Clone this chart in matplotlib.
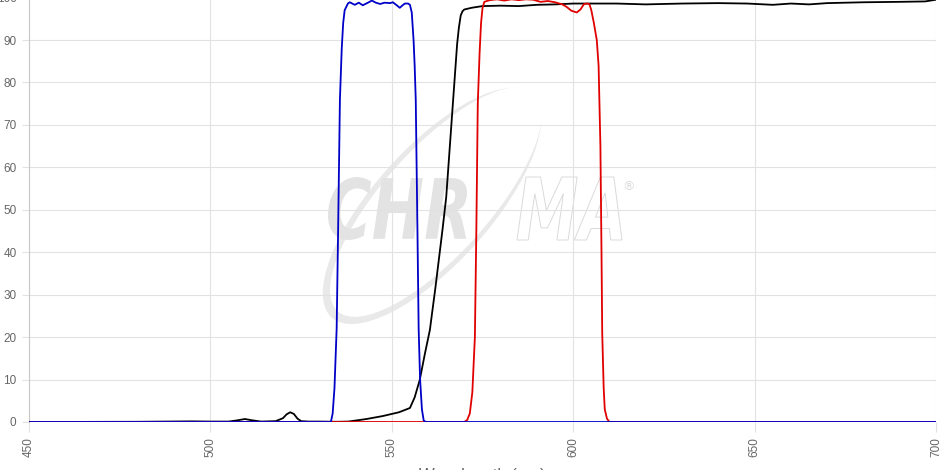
import matplotlib
matplotlib.use("Agg")
import matplotlib.pyplot as plt
import matplotlib.transforms as mtransforms
from matplotlib.textpath import TextPath
from matplotlib.patches import PathPatch, Ellipse
from matplotlib.font_manager import FontProperties

# --- data (wavelength nm, transmission %) ---
blue_wl = [450, 530, 533.2, 533.7, 534.2, 534.8, 535.2, 535.7, 536.2, 536.6, 537.0, 537.9,
           538.4, 539.8, 540.9, 542.0, 543.2, 544.5, 545.6, 546.8, 548.0, 549.5, 550.3,
           551.2, 552.2, 553.0, 553.6, 554.5, 555.0, 555.5, 556.0, 556.3, 556.6, 557.0,
           557.4, 557.8, 558.3, 558.8, 559.5, 700]
blue_t = [0, 0, 0, 2, 8, 22, 45, 76, 88, 94, 97, 98.6,
          98.9, 98.3, 98.8, 98.2, 98.7, 99.3, 98.8, 98.5, 98.8, 98.7, 98.9,
          98.3, 97.6, 98.2, 98.6, 98.6, 98.3, 96.5, 90, 84, 76, 50,
          22, 10, 3, 0.3, 0, 0]

black_wl = [450, 480, 495, 500, 505, 507.5, 509.5, 511.5, 514, 518, 520, 521, 522, 523, 524,
            525, 527, 530, 535, 538, 543, 547.5, 552, 555, 556.3, 557.7, 559.1, 560.5, 561,
            562, 563, 564, 565, 566, 567, 567.5, 568, 568.5, 569, 569.5, 570, 572, 575, 580,
            585, 590, 595, 600, 607, 612, 620, 630, 640, 648, 655, 660, 665, 670, 680, 690,
            697, 700]
black_t = [0, 0.05, 0.15, 0.1, 0.1, 0.4, 0.7, 0.4, 0.1, 0.2, 0.9, 1.8, 2.3, 1.9, 0.8,
           0.2, 0.1, 0.1, 0.05, 0.1, 0.7, 1.4, 2.3, 3.3, 5.8, 9.9, 16, 21.7, 25,
           31.5, 38.5, 45.5, 53, 65, 77, 83, 89, 93, 95.8, 96.8, 97.2, 97.6, 98.0, 98.1,
           98.0, 98.3, 98.4, 98.6, 98.6, 98.6, 98.4, 98.6, 98.7, 98.6, 98.3, 98.6, 98.4,
           98.7, 98.9, 99.0, 99.1, 99.5]

red_wl = [450, 570, 570.8, 571.5, 572.2, 572.9, 573.3, 573.7, 574.2, 574.6, 575.0, 575.5,
          577, 579, 581, 583, 585, 587, 589, 591, 593, 595, 597, 598.2, 599.5, 601, 602,
          603, 604, 604.5, 605, 605.7, 606.5, 607, 607.5, 607.8, 608, 608.4, 608.7, 609.3,
          610, 700]
red_t = [0, 0, 0.5, 2, 7, 20, 45, 75, 87, 94, 97.5, 99.0,
         99.4, 99.6, 99.3, 99.6, 99.4, 99.6, 99.5, 99.0, 99.2, 98.9, 98.4, 97.8, 96.9,
         96.5, 97.2, 98.5, 98.6, 98.4, 97, 94, 90, 84, 65, 40, 21, 8, 3, 0.8,
         0, 0]

x_ticks = [450, 500, 550, 600, 650, 700]
y_ticks = [0, 10, 20, 30, 40, 50, 60, 70, 80, 90, 100]

W, H = 951, 470
fig = plt.figure(figsize=(W / 100, H / 100), dpi=100)
fig.patch.set_facecolor("white")
ax = fig.add_axes([29 / W, 48 / H, 907 / W, 424.4 / H])
ax.set_facecolor("none")

ax.plot(black_wl, black_t, color="black", lw=1.3, zorder=3)
ax.plot(red_wl, red_t, color="#e00000", lw=1.3, zorder=4)
ax.plot(blue_wl, blue_t, color="#0000c8", lw=1.3, zorder=5)

ax.set_xlim(450, 700)
ax.set_ylim(0, 100)
ax.set_xticks(x_ticks)
ax.set_yticks(y_ticks)
ax.set_xticklabels([str(v) for v in x_ticks], rotation=90)
ax.grid(True, color="#e2e2e2", lw=0.8)
ax.set_axisbelow(True)
for s in ["top", "right", "bottom"]:
    ax.spines[s].set_visible(False)
ax.spines["left"].set_color("#c8c8c8")
ax.tick_params(axis="both", colors="#e2e2e2", labelcolor="#666666", labelsize=8.5)
ax.tick_params(axis="x", length=7, pad=4)
ax.tick_params(axis="y", length=5, pad=4)
for lab in ax.get_xticklabels() + ax.get_yticklabels():
    lab.set_family(["Liberation Sans Narrow", "Liberation Sans", "DejaVu Sans"])
ax.set_xlabel("Wavelength (nm)", color="#666666", fontsize=12, labelpad=8,
              family=["Liberation Sans", "DejaVu Sans"])

# --- CHROMA watermark (figure pixel coords, y up), drawn under the axes ---
def ell(cx, cy, w, h, color):
    fig.add_artist(Ellipse((cx / 100, (H - cy) / 100), w / 100, h / 100, angle=48,
                           transform=fig.dpi_scale_trans, facecolor=color,
                           edgecolor="none", zorder=-3))

ell(432, 206, 300, 116, "#e9e9e9")   # swoosh: outer minus shifted inner = crescent
ell(436, 202, 294, 106, "white")


def word(txt, x0, y0, w, h, **kw):
    fp = FontProperties(family="DejaVu Sans", weight="bold", style="italic")
    tp = TextPath((0, 0), txt, size=1, prop=fp)
    bb = tp.get_extents()
    tr = (mtransforms.Affine2D().translate(-bb.x0, -bb.y0)
          .scale(w / bb.width / 100, h / bb.height / 100)
          .translate(x0 / 100, y0 / 100) + fig.dpi_scale_trans)
    fig.add_artist(PathPatch(tp, transform=tr, zorder=-1, **kw))


word("CHR", 328, H - 240, 139, 63, facecolor="#e3e3e3", edgecolor="none")
word("MA", 517, H - 240, 105, 63, facecolor="none", edgecolor="#dadada", lw=0.7)
fig.text(628 / W, (H - 187) / H, "®", color="#dcdcdc", fontsize=9, ha="center", va="center",
         zorder=-1)

fig.savefig("out.png", dpi=100)
